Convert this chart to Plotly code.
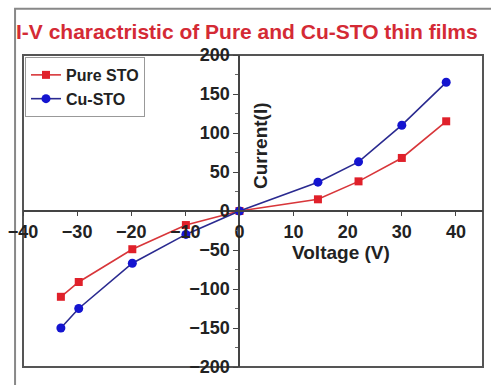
import plotly.graph_objects as go

voltage_pure = [-33, -29.7, -19.8, -9.9, 0, 14.5, 22, 30, 38.2]
current_pure = [-110, -91, -49, -18, 0, 15, 38, 68, 115]
voltage_cu = [-33, -29.7, -19.8, -9.9, 0, 14.5, 22, 30, 38.2]
current_cu = [-150, -125, -67, -30, 0, 37, 63, 110, 165]
x_ticks = [-40, -30, -20, -10, 0, 10, 20, 30, 40]
y_ticks = [-200, -150, -100, -50, 0, 50, 100, 150, 200]

FONT = "Liberation Sans"
W, H = 491, 385
L, R, T, B = 20, 8, 55, 13
pw, ph = W - L - R, H - T - B

def px_x(p):
    return (p - L) / pw

def px_y(p):
    return (H - B - p) / ph

fig = go.Figure()
fig.add_trace(go.Scatter(
    x=voltage_pure, y=current_pure, name="Pure STO", mode="lines+markers",
    line=dict(color="#d8363a", width=1.6),
    marker=dict(symbol="square", size=8, color="#e0202a"),
))
fig.add_trace(go.Scatter(
    x=voltage_cu, y=current_cu, name="Cu-STO", mode="lines+markers",
    line=dict(color="#2a2a90", width=1.6),
    marker=dict(symbol="circle", size=9, color="#1414d0"),
))

tickfont = dict(family=FONT, size=18, color="#222222", weight="bold")
fig.update_layout(
    width=W, height=H,
    margin=dict(l=L, r=R, t=T, b=B),
    paper_bgcolor="white", plot_bgcolor="white",
    showlegend=True,
    legend=dict(
        x=px_x(22), y=px_y(57), xanchor="left", yanchor="top",
        bgcolor="white", bordercolor="#999999", borderwidth=1,
        font=dict(family=FONT, size=16, color="#222222", weight="bold"),
        itemwidth=30, tracegroupgap=0,
    ),
    xaxis=dict(
        range=[-40, 45], anchor="free", position=0.5,
        showline=True, linecolor="#444444", linewidth=2,
        zeroline=False, showgrid=False,
        tickvals=x_ticks, ticks="outside", ticklen=4, tickcolor="#444444",
        tickfont=tickfont,
    ),
    yaxis=dict(
        range=[-200, 200], anchor="free", position=40 / 85,
        showline=True, linecolor="#444444", linewidth=2,
        zeroline=False, showgrid=False,
        tickvals=y_ticks, ticks="outside", ticklen=5, tickcolor="#444444",
        tickfont=tickfont,
        minor=dict(ticks="outside", ticklen=3, dtick=25, tickcolor="#666666"),
    ),
)

# plot frame and outer frame
fig.add_shape(type="rect", xref="paper", yref="paper", x0=0, x1=1, y0=0, y1=1,
              line=dict(color="#555555", width=2), layer="below")
fig.add_shape(type="rect", xref="paper", yref="paper",
              x0=px_x(12), x1=px_x(500), y0=px_y(395), y1=px_y(8),
              line=dict(color="#888888", width=2), layer="below")

fig.add_annotation(
    text="I-V charactristic of Pure and Cu-STO thin films",
    xref="paper", yref="paper", x=px_x(11), y=px_y(31),
    xanchor="left", yanchor="middle", showarrow=False,
    font=dict(family=FONT, size=21, color="#d42a35", weight="bold"),
)
fig.add_annotation(
    text="Voltage (V)", xref="paper", yref="paper",
    x=px_x(340), y=px_y(256), xanchor="center", yanchor="middle", showarrow=False,
    font=dict(family=FONT, size=19, color="#222222", weight="bold"),
)
fig.add_annotation(
    text="Current(I)", xref="paper", yref="paper", textangle=-90,
    x=px_x(259), y=px_y(147), xanchor="center", yanchor="middle", showarrow=False,
    font=dict(family=FONT, size=19, color="#222222", weight="bold"),
)

fig.write_html("out.html")
